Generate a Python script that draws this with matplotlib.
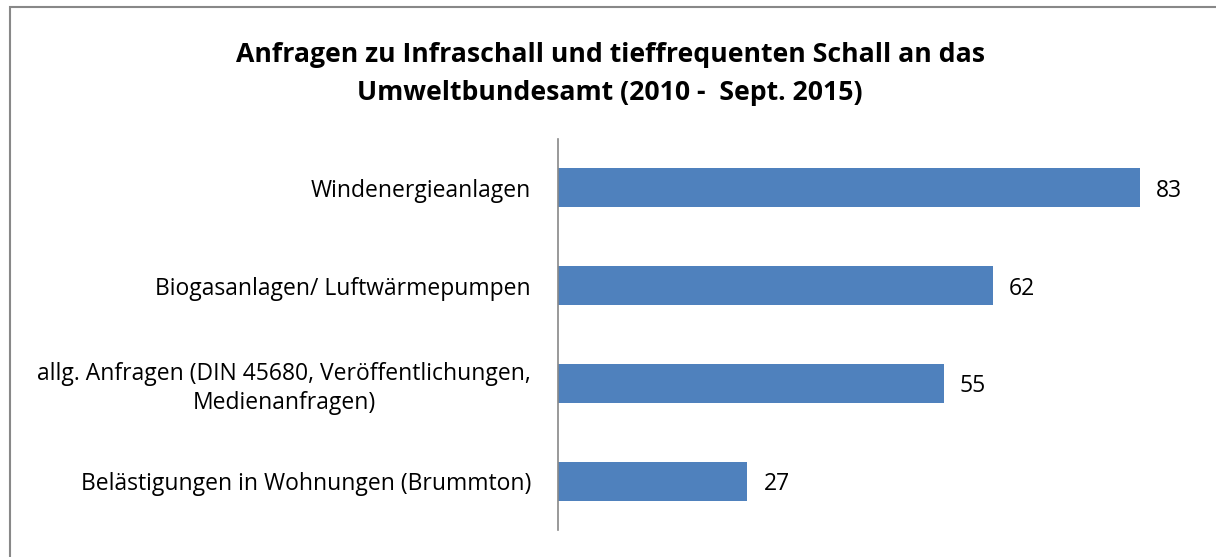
import matplotlib.pyplot as plt
from matplotlib.patches import Rectangle

categories = [
    "Windenergieanlagen",
    "Biogasanlagen/ Luftwärmepumpen",
    "allg. Anfragen (DIN 45680, Veröffentlichungen,\nMedienanfragen)",
    "Belästigungen in Wohnungen (Brummton)",
]
values = [83, 62, 55, 27]
title = "Anfragen zu Infraschall und tieffrequenten Schall an das\nUmweltbundesamt (2010 -  Sept. 2015)"

W, H = 1216, 557
plt.rcParams["font.family"] = ["Open Sans", "DejaVu Sans"]

fig = plt.figure(figsize=(W / 100, H / 100), dpi=100)

# outer chart frame (cut off at right and bottom like in the source)
fig.patches.append(Rectangle((10 / W, -0.1), 1.2, 1 - 7 / H + 0.1,
                             transform=fig.transFigure, fill=False,
                             edgecolor="#888888", linewidth=1.5))

left, right = 558, 558 + 7.012 * 90
top, bottom = 139, 530
ax = fig.add_axes([left / W, 1 - bottom / H, (right - left) / W, (bottom - top) / H])

bar_color = "#4F81BD"
ax.barh(range(len(values)), values, height=0.4, color=bar_color)
ax.set_ylim(len(values) - 0.5, -0.5)
ax.set_xlim(0, 90)

for i, v in enumerate(values):
    ax.text(v + 2.3, i, str(v), va="center_baseline", ha="left", fontsize=16.5)

ax.set_yticks(range(len(categories)))
ax.set_yticklabels(categories, fontsize=16.5, ha="right", multialignment="center",
                   linespacing=1.25)
ax.tick_params(axis="y", length=0, pad=19.5)
ax.set_xticks([])
for side in ["top", "right", "bottom"]:
    ax.spines[side].set_visible(False)
ax.spines["left"].set_color("#888888")
ax.spines["left"].set_linewidth(1.2)

fig.text(610 / W, 1 - 74 / H, title, ha="center", va="center",
         fontsize=19.2, fontweight="bold", linespacing=1.55)

fig.savefig("out.png", dpi=100)
